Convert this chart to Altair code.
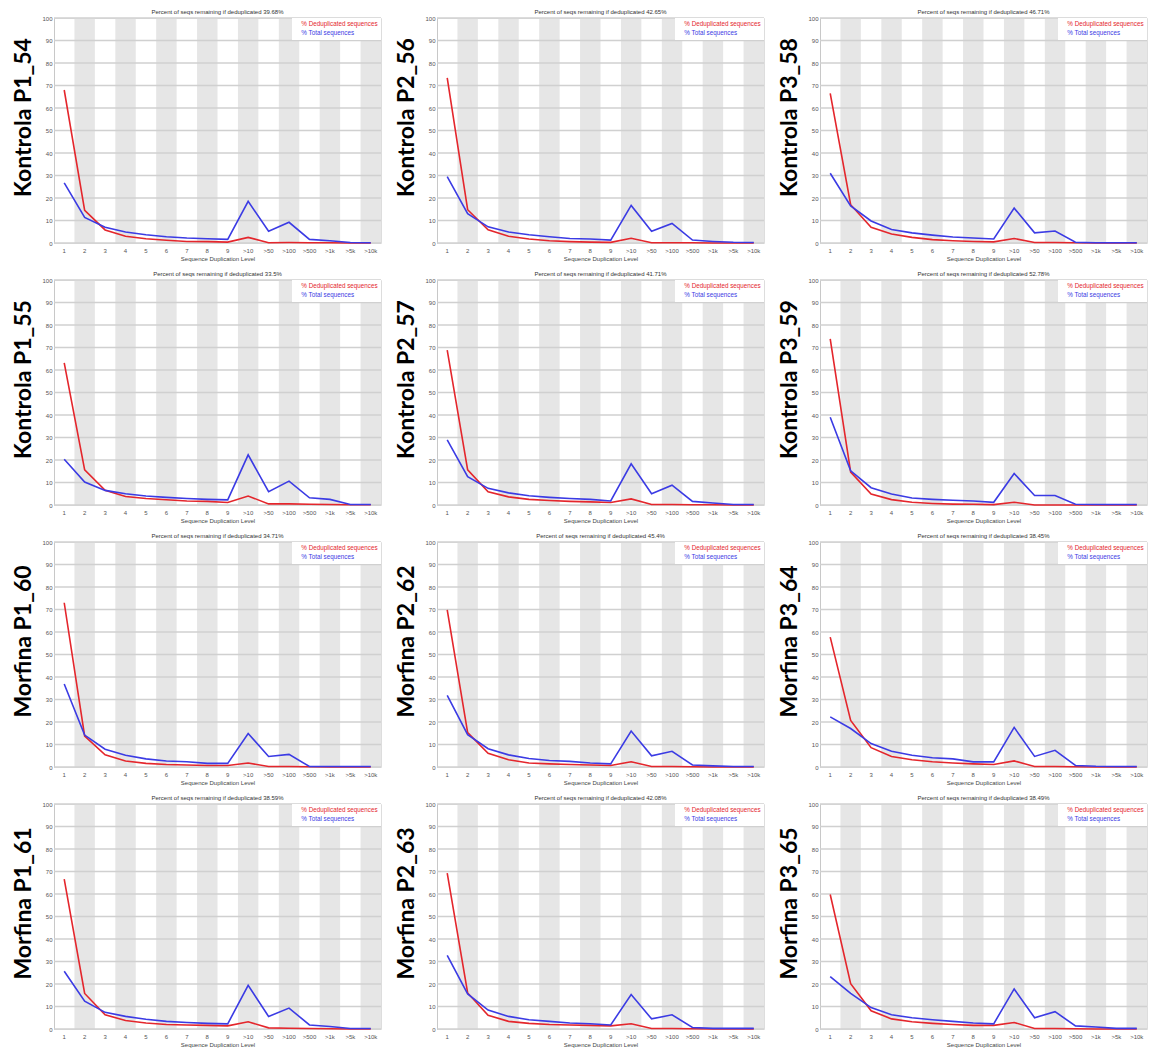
import altair as alt
import pandas as pd

levels = ["1", "2", "3", "4", "5", "6", "7", "8", "9", ">10", ">50", ">100", ">500", ">1k", ">5k", ">10k"]
shaded_levels = levels[1::2]
y_ticks = [0, 10, 20, 30, 40, 50, 60, 70, 80, 90, 100]
series_names = ["% Deduplicated sequences", "% Total sequences"]
series_colors = ["#e4262c", "#3b3be4"]

row_labels = [
    ["Kontrola P1_54", "Kontrola P2_56", "Kontrola P3_58"],
    ["Kontrola P1_55", "Kontrola P2_57", "Kontrola P3_59"],
    ["Morfina P1_60", "Morfina P2_62", "Morfina P3_64"],
    ["Morfina P1_61", "Morfina P2_63", "Morfina P3_65"],
]
remaining_pct = [
    ["39.68%", "42.65%", "46.71%"],
    ["33.5%", "41.71%", "52.78%"],
    ["34.71%", "45.4%", "38.45%"],
    ["38.59%", "42.08%", "38.49%"],
]

dedup_p1_54 = [68, 14.5, 5.8, 3.0, 1.9, 1.2, 0.7, 0.6, 0.4, 2.5, 0.1, 0.2, 0.1, 0.1, 0.0, 0.0]
total_p1_54 = [26.7, 11.4, 7.0, 4.9, 3.7, 2.8, 2.2, 1.9, 1.6, 18.5, 5.2, 9.2, 1.6, 1.0, 0.2, 0.1]
dedup_p2_56 = [73.4, 14.8, 5.9, 3.0, 1.8, 1.0, 0.6, 0.4, 0.3, 2.1, 0.1, 0.1, 0.1, 0.0, 0.0, 0.0]
total_p2_56 = [29.5, 13.0, 7.2, 4.9, 3.7, 2.8, 2.0, 1.8, 1.3, 16.7, 5.2, 8.7, 1.3, 0.7, 0.3, 0.2]
dedup_p3_58 = [66.5, 17.0, 7.0, 4.0, 2.5, 1.5, 1.0, 0.7, 0.5, 2.0, 0.2, 0.2, 0.1, 0.0, 0.0, 0.0]
total_p3_58 = [31.0, 16.5, 9.8, 6.0, 4.5, 3.5, 2.7, 2.2, 1.8, 15.5, 4.5, 5.3, 0.3, 0.1, 0.1, 0.1]

dedup_p1_55 = [63.2, 15.6, 6.5, 3.8, 2.9, 2.3, 1.8, 1.6, 1.1, 4.0, 0.5, 0.5, 0.3, 0.2, 0.1, 0.1]
total_p1_55 = [20.3, 10.2, 6.5, 5.0, 4.0, 3.4, 2.9, 2.5, 2.3, 22.3, 5.9, 10.6, 3.2, 2.5, 0.2, 0.2]
dedup_p2_57 = [68.8, 15.6, 5.9, 3.6, 2.5, 2.0, 1.6, 1.4, 1.1, 2.7, 0.2, 0.2, 0.1, 0.1, 0.0, 0.0]
total_p2_57 = [28.9, 12.6, 7.4, 5.4, 4.1, 3.4, 2.9, 2.5, 1.8, 18.3, 5.0, 8.8, 1.6, 0.9, 0.2, 0.2]
dedup_p3_59 = [73.8, 14.6, 4.9, 2.4, 1.2, 0.7, 0.4, 0.3, 0.15, 1.2, 0.0, 0.0, 0.0, 0.0, 0.0, 0.0]
total_p3_59 = [39.0, 15.2, 7.7, 4.9, 3.1, 2.5, 2.1, 1.8, 1.2, 14.0, 4.2, 4.2, 0.3, 0.2, 0.2, 0.2]

dedup_p1_60 = [73.0, 13.7, 5.4, 2.7, 1.6, 1.1, 0.9, 0.7, 0.7, 1.8, 0.2, 0.2, 0.1, 0.0, 0.0, 0.0]
total_p1_60 = [36.9, 14.2, 7.9, 5.2, 3.6, 2.7, 2.3, 1.6, 1.6, 14.9, 4.7, 5.6, 0.2, 0.2, 0.2, 0.2]
dedup_p2_62 = [69.8, 15.3, 6.1, 3.2, 1.8, 1.4, 1.1, 0.9, 0.7, 2.3, 0.2, 0.2, 0.1, 0.0, 0.0, 0.0]
total_p2_62 = [31.8, 14.4, 8.1, 5.4, 3.8, 2.9, 2.5, 1.8, 1.4, 16.0, 5.0, 7.0, 0.9, 0.5, 0.2, 0.2]
dedup_p3_64 = [57.7, 20.7, 8.6, 4.7, 3.2, 2.3, 1.8, 1.4, 1.1, 2.7, 0.2, 0.2, 0.1, 0.0, 0.0, 0.0]
total_p3_64 = [22.3, 17.1, 10.4, 7.0, 5.2, 4.1, 3.6, 2.3, 2.3, 17.6, 4.7, 7.4, 0.7, 0.3, 0.2, 0.2]

dedup_p1_61 = [66.6, 15.8, 6.3, 3.8, 2.7, 2.0, 1.8, 1.6, 1.4, 3.2, 0.5, 0.3, 0.2, 0.1, 0.0, 0.0]
total_p1_61 = [25.7, 12.4, 7.4, 5.6, 4.3, 3.4, 2.9, 2.5, 2.3, 19.4, 5.6, 9.3, 1.8, 1.1, 0.2, 0.2]
dedup_p2_63 = [69.3, 16.0, 6.1, 3.4, 2.5, 2.0, 1.8, 1.6, 1.4, 2.3, 0.2, 0.2, 0.1, 0.0, 0.0, 0.0]
total_p2_63 = [32.7, 15.6, 8.4, 5.6, 4.1, 3.4, 2.7, 2.3, 1.8, 15.3, 4.5, 6.3, 0.7, 0.3, 0.3, 0.3]
dedup_p3_65 = [59.8, 20.1, 8.1, 4.5, 3.2, 2.5, 2.0, 1.6, 1.6, 2.9, 0.2, 0.2, 0.1, 0.0, 0.0, 0.0]
total_p3_65 = [23.3, 15.8, 9.5, 6.3, 5.0, 4.1, 3.4, 2.7, 2.3, 17.8, 5.0, 7.7, 1.4, 0.9, 0.3, 0.3]

dedup_rows = [
    [dedup_p1_54, dedup_p2_56, dedup_p3_58],
    [dedup_p1_55, dedup_p2_57, dedup_p3_59],
    [dedup_p1_60, dedup_p2_62, dedup_p3_64],
    [dedup_p1_61, dedup_p2_63, dedup_p3_65],
]
total_rows = [
    [total_p1_54, total_p2_56, total_p3_58],
    [total_p1_55, total_p2_57, total_p3_59],
    [total_p1_60, total_p2_62, total_p3_64],
    [total_p1_61, total_p2_63, total_p3_65],
]

FONT = "Liberation Sans"
PLOT_W = 327
PLOT_H = 225

label_color_expr = (
    "datum.label == '" + series_names[1] + "' ? '" + series_colors[1] + "' : '" + series_colors[0] + "'"
)


def panel(label, pct, dedup, total):
    y_axis = alt.Axis(
        values=y_ticks, grid=False, ticks=False, labelFontSize=6, labelColor="#555555",
        labelPadding=2, domainColor="#c8c8c8", title=label, titleFont="Lato",
        titleFontSize=23, titleFontWeight="bold", titleColor="black", titlePadding=6,
        titleY=99,
    )
    x_axis = alt.Axis(
        labelAngle=0, ticks=False, domain=False, labelFontSize=6, labelColor="#555555",
        labelPadding=4, title="Sequence Duplication Level", titleFontSize=6,
        titleFontWeight="normal", titleColor="#444444", titlePadding=2,
    )
    x = alt.X("level:N", sort=levels,
              scale=alt.Scale(domain=levels, paddingInner=0, paddingOuter=0), axis=x_axis)
    yscale = alt.Scale(domain=[0, 100], nice=False)
    y = alt.Y("value:Q", scale=yscale, axis=y_axis)

    bands_df = pd.DataFrame({"level": shaded_levels, "value": 100, "value2": 0})
    bands = alt.Chart(bands_df).mark_rect(color="#e6e6e6").encode(x=x, y=y, y2="value2:Q")

    grid_df = pd.DataFrame({"value": y_ticks})
    grid = alt.Chart(grid_df).mark_rule(color="#d0d0d0", strokeWidth=1.5).encode(y=y)

    line_df = pd.DataFrame({
        "level": levels * 2,
        "series": [series_names[0]] * len(levels) + [series_names[1]] * len(levels),
        "value": list(dedup) + list(total),
    })
    legend = alt.Legend(
        title=None, orient="top-right", offset=0, fillColor="white", padding=3,
        symbolSize=0, symbolOpacity=0, symbolStrokeWidth=0, labelOffset=0,
        labelFontSize=6.3, labelFont=FONT, rowPadding=2,
        labelColor={"expr": label_color_expr},
    )
    lines = alt.Chart(line_df).mark_line(strokeWidth=1.6).encode(
        x=x, y=y,
        color=alt.Color("series:N", scale=alt.Scale(domain=series_names, range=series_colors), legend=legend),
    )
    return alt.layer(bands, grid, lines).properties(
        width=PLOT_W, height=PLOT_H,
        title=alt.TitleParams(
            text=f"Percent of seqs remaining if deduplicated {pct}", fontSize=6,
            fontWeight="normal", color="#333333", font=FONT, offset=0,
        ),
    )


rows = []
for r in range(4):
    panels = [panel(row_labels[r][c], remaining_pct[r][c], dedup_rows[r][c], total_rows[r][c]) for c in range(3)]
    rows.append(alt.hconcat(*panels, spacing=12).resolve_legend(color="independent"))

chart = alt.vconcat(*rows, spacing=8).resolve_legend(color="independent").properties(
    padding={"left": 4, "top": 0, "right": 0, "bottom": 0}, background="white"
).configure_view(stroke=None).configure(font=FONT)

chart.save("out.html", embed_options={"renderer": "svg", "actions": False})
